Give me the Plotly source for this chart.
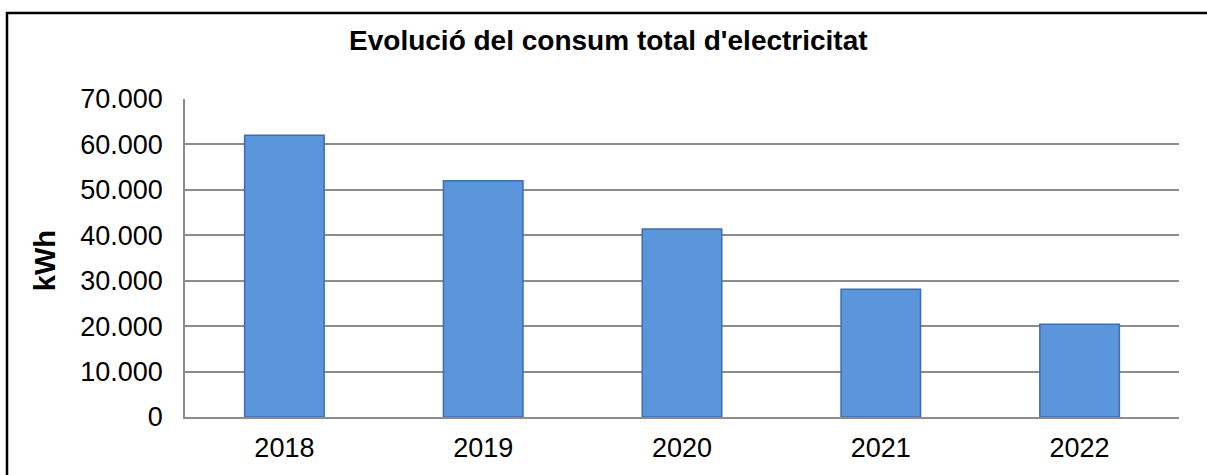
import plotly.graph_objects as go

years = ["2018", "2019", "2020", "2021", "2022"]
consum_kwh = [62000, 52000, 41400, 28100, 20400]
y_ticks = [0, 10000, 20000, 30000, 40000, 50000, 60000, 70000]

fig = go.Figure()
fig.add_trace(go.Bar(
    x=years, y=consum_kwh,
    marker=dict(color="#5B95DC", line=dict(color="#3F6DAE", width=1.5)),
    width=0.4,
))

fig.update_layout(
    width=1207, height=475,
    margin=dict(l=185, r=28, t=99, b=58),
    paper_bgcolor="white", plot_bgcolor="white",
    separators=",.",
    showlegend=False,
    font=dict(family="Liberation Sans, Arial, sans-serif", size=27, color="#000"),
    title=dict(text="<b>Evolució del consum total d'electricitat</b>",
               x=0.504, xanchor="center", y=1 - 40 / 475, yanchor="middle",
               font=dict(size=28, color="#000")),
    xaxis=dict(showgrid=False, showline=True, linecolor="#8c8c8c", linewidth=2,
               ticks="", ticklabelstandoff=6),
    yaxis=dict(range=[0, 70000], tickvals=y_ticks, tickformat=",d",
               showgrid=True, gridcolor="#8c8c8c", gridwidth=1.7,
               showline=True, linecolor="#8c8c8c", linewidth=1.7,
               zeroline=False, ticks="", ticklabelstandoff=15),
    annotations=[dict(text="<b>kWh</b>", xref="paper", yref="paper",
                      x=(45 - 185) / 994, y=0.49, xanchor="center", yanchor="middle",
                      textangle=-90, showarrow=False, font=dict(size=29, color="#000"))],
    shapes=[dict(type="rect", xref="paper", yref="paper",
                 x0=(7 - 185) / 994, x1=(1215 - 185) / 994,
                 y0=(417 - 480) / 318, y1=(417 - 13) / 318,
                 line=dict(color="#000", width=2.5), fillcolor="rgba(0,0,0,0)", layer="below")],
)

fig.write_html("out.html", config={"displayModeBar": False},
               post_script="document.body.style.margin='0';")
